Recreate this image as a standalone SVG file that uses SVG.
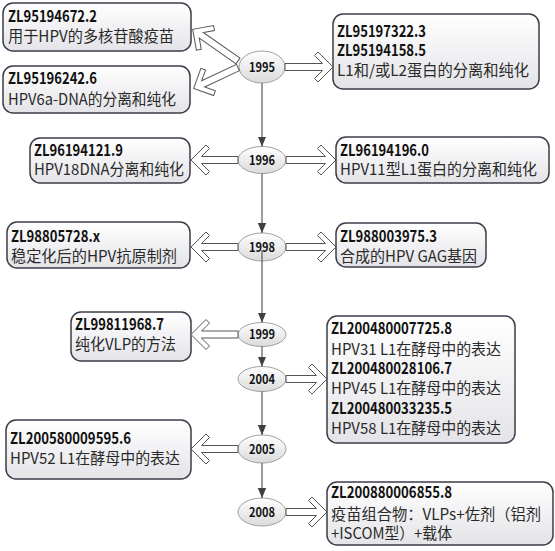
<svg xmlns="http://www.w3.org/2000/svg" width="555" height="551" viewBox="0 0 555 551">
<defs>
<linearGradient id="boxg" x1="0" y1="0" x2="0" y2="1">
<stop offset="0" stop-color="#ffffff"/>
<stop offset="1" stop-color="#e4e4e8"/>
</linearGradient>
<linearGradient id="ellg" x1="0" y1="0" x2="0" y2="1">
<stop offset="0" stop-color="#ffffff"/>
<stop offset="1" stop-color="#dadada"/>
</linearGradient>
<marker id="ah" markerUnits="userSpaceOnUse" markerWidth="10" markerHeight="10" viewBox="0 0 10 10" refX="10" refY="5" orient="auto">
<path d="M0,0.8 L10,5 L0,9.2 Z" fill="#404040"/>
</marker>
</defs>
<style>
.box{fill:url(#boxg);stroke:#3c3c4a;stroke-width:1.5}
.ell{fill:url(#ellg);stroke:#a0a0a0;stroke-width:1}
.id{font-family:"Noto Sans CJK SC","Noto Sans",sans-serif;font-size:15.5px;font-weight:bold;fill:#111}
.tx{font-family:"Noto Sans CJK SC","Noto Sans",sans-serif;font-size:15.5px;fill:#2a2a2a}
.yr{font-family:"Noto Sans CJK SC","Noto Sans",sans-serif;font-size:13px;font-weight:bold;fill:#111;text-anchor:middle}
.vl{stroke:#595959;stroke-width:1.2;fill:none;marker-end:url(#ah)}
.ba{fill:#ffffff;stroke:#555;stroke-width:1}
</style>
<rect width="555" height="551" fill="#ffffff"/>

<g id="box-ZL95194672">
<rect class="box" x="3" y="3" width="188" height="48" rx="10"/>
<text class="id" x="8" y="22" textLength="89" lengthAdjust="spacingAndGlyphs">ZL95194672.2</text>
<text class="tx" x="8" y="42" textLength="166" lengthAdjust="spacingAndGlyphs">用于HPV的多核苷酸疫苗</text>
</g>
<g id="box-ZL95196242">
<rect class="box" x="3" y="66" width="187" height="47" rx="10"/>
<text class="id" x="8" y="84" textLength="89" lengthAdjust="spacingAndGlyphs">ZL95196242.6</text>
<text class="tx" x="8" y="105" textLength="168" lengthAdjust="spacingAndGlyphs">HPV6a-DNA的分离和纯化</text>
</g>
<g id="box-ZL95197322">
<rect class="box" x="333" y="14" width="206" height="75" rx="10"/>
<text class="id" x="337" y="37" textLength="89" lengthAdjust="spacingAndGlyphs">ZL95197322.3</text>
<text class="id" x="337" y="55.5" textLength="89" lengthAdjust="spacingAndGlyphs">ZL95194158.5</text>
<text class="tx" x="337" y="75.5" textLength="192" lengthAdjust="spacingAndGlyphs">L1和/或L2蛋白的分离和纯化</text>
</g>
<g id="box-ZL96194121">
<rect class="box" x="30" y="138" width="160" height="45" rx="10"/>
<text class="id" x="34" y="156" textLength="89" lengthAdjust="spacingAndGlyphs">ZL96194121.9</text>
<text class="tx" x="34" y="175" textLength="150" lengthAdjust="spacingAndGlyphs">HPV18DNA分离和纯化</text>
</g>
<g id="box-ZL96194196">
<rect class="box" x="336" y="137" width="213" height="46" rx="10"/>
<text class="id" x="340" y="156" textLength="89" lengthAdjust="spacingAndGlyphs">ZL96194196.0</text>
<text class="tx" x="340" y="175" textLength="197" lengthAdjust="spacingAndGlyphs">HPV11型L1蛋白的分离和纯化</text>
</g>
<g id="box-ZL98805728">
<rect class="box" x="7" y="222" width="183" height="46" rx="10"/>
<text class="id" x="11" y="242" textLength="89" lengthAdjust="spacingAndGlyphs">ZL98805728.x</text>
<text class="tx" x="11" y="261.5" textLength="166" lengthAdjust="spacingAndGlyphs">稳定化后的HPV抗原制剂</text>
</g>
<g id="box-ZL988003975">
<rect class="box" x="336" y="223" width="150" height="44" rx="10"/>
<text class="id" x="340" y="242" textLength="97" lengthAdjust="spacingAndGlyphs">ZL988003975.3</text>
<text class="tx" x="340" y="262" textLength="137" lengthAdjust="spacingAndGlyphs">合成的HPV GAG基因</text>
</g>
<g id="box-ZL99811968">
<rect class="box" x="71" y="312" width="120" height="49" rx="10"/>
<text class="id" x="75" y="330" textLength="89" lengthAdjust="spacingAndGlyphs">ZL99811968.7</text>
<text class="tx" x="75" y="349.5" textLength="101" lengthAdjust="spacingAndGlyphs">纯化VLP的方法</text>
</g>
<g id="box-ZL2004">
<rect class="box" x="327" y="316" width="188" height="127" rx="10"/>
<text class="id" x="331" y="333.5" textLength="121" lengthAdjust="spacingAndGlyphs">ZL200480007725.8</text>
<text class="tx" x="331" y="354.5" textLength="170" lengthAdjust="spacingAndGlyphs">HPV31 L1在酵母中的表达</text>
<text class="id" x="331" y="373.5" textLength="121" lengthAdjust="spacingAndGlyphs">ZL200480028106.7</text>
<text class="tx" x="331" y="394" textLength="170" lengthAdjust="spacingAndGlyphs">HPV45 L1在酵母中的表达</text>
<text class="id" x="331" y="413.5" textLength="121" lengthAdjust="spacingAndGlyphs">ZL200480033235.5</text>
<text class="tx" x="331" y="433.5" textLength="170" lengthAdjust="spacingAndGlyphs">HPV58 L1在酵母中的表达</text>
</g>
<g id="box-ZL200580009595">
<rect class="box" x="6" y="420" width="185" height="59" rx="10"/>
<text class="id" x="10" y="443.5" textLength="121" lengthAdjust="spacingAndGlyphs">ZL200580009595.6</text>
<text class="tx" x="10" y="464" textLength="170" lengthAdjust="spacingAndGlyphs">HPV52 L1在酵母中的表达</text>
</g>
<g id="box-ZL200880006855">
<rect class="box" x="327" y="482" width="226" height="63" rx="10"/>
<text class="id" x="331" y="497.5" textLength="121" lengthAdjust="spacingAndGlyphs">ZL200880006855.8</text>
<text class="tx" x="331" y="520" textLength="210" lengthAdjust="spacingAndGlyphs">疫苗组合物：VLPs+佐剂（铝剂</text>
<text class="tx" x="331" y="538.5" textLength="121" lengthAdjust="spacingAndGlyphs">+ISCOM型）+载体</text>
</g>

<g id="year-1995"><ellipse class="ell" cx="262" cy="67" rx="23" ry="16"/><text class="yr" x="262" y="71.5" textLength="26" lengthAdjust="spacingAndGlyphs">1995</text></g>
<g id="year-1996"><ellipse class="ell" cx="262" cy="160" rx="24" ry="13.5"/><text class="yr" x="262" y="164.5" textLength="26" lengthAdjust="spacingAndGlyphs">1996</text></g>
<g id="year-1998"><ellipse class="ell" cx="262" cy="247" rx="24" ry="14"/><text class="yr" x="262" y="251.5" textLength="26" lengthAdjust="spacingAndGlyphs">1998</text></g>
<g id="year-1999"><ellipse class="ell" cx="262" cy="334.5" rx="24" ry="12"/><text class="yr" x="262" y="339" textLength="26" lengthAdjust="spacingAndGlyphs">1999</text></g>
<g id="year-2004"><ellipse class="ell" cx="262" cy="379" rx="24" ry="12.5"/><text class="yr" x="262" y="383.5" textLength="26" lengthAdjust="spacingAndGlyphs">2004</text></g>
<g id="year-2005"><ellipse class="ell" cx="262" cy="449" rx="24" ry="14"/><text class="yr" x="262" y="453.5" textLength="26" lengthAdjust="spacingAndGlyphs">2005</text></g>
<g id="year-2008"><ellipse class="ell" cx="262" cy="512" rx="24" ry="14"/><text class="yr" x="262" y="516.5" textLength="26" lengthAdjust="spacingAndGlyphs">2008</text></g>

<g id="connectors">
<line class="vl" x1="262" y1="83" x2="262" y2="146.5"/>
<line class="vl" x1="262" y1="173.5" x2="262" y2="233"/>
<line class="vl" x1="262" y1="250" x2="262" y2="322.5"/>
<line class="vl" x1="262" y1="346.5" x2="262" y2="366.5"/>
<line class="vl" x1="262" y1="391.5" x2="262" y2="435"/>
<line class="vl" x1="262" y1="463" x2="262" y2="498"/>

<polygon class="ba" transform="translate(238,61) rotate(215)" points="0,-3.5 44.8,-3.5 36.8,-11.5 40.3,-15 55.3,0 40.3,15 36.8,11.5 44.8,3.5 0,3.5"/>
<polygon class="ba" transform="translate(238,67.5) rotate(154.8)" points="0,-3.5 38.5,-3.5 30.5,-11.5 34,-15 49,0 34,15 30.5,11.5 38.5,3.5 0,3.5"/>
<polygon class="ba" transform="translate(285,67) rotate(0)" points="0,-3.5 37.5,-3.5 29.5,-11.5 33,-15 48,0 33,15 29.5,11.5 37.5,3.5 0,3.5"/>

<polygon class="ba" transform="translate(238,160) rotate(180)" points="0,-3.5 36.5,-3.5 28.5,-11.5 32,-15 47,0 32,15 28.5,11.5 36.5,3.5 0,3.5"/>
<polygon class="ba" transform="translate(286,160) rotate(0)" points="0,-3.5 39.5,-3.5 31.5,-11.5 35,-15 50,0 35,15 31.5,11.5 39.5,3.5 0,3.5"/>

<polygon class="ba" transform="translate(238,247) rotate(180)" points="0,-3.5 36.5,-3.5 28.5,-11.5 32,-15 47,0 32,15 28.5,11.5 36.5,3.5 0,3.5"/>
<polygon class="ba" transform="translate(286,247) rotate(0)" points="0,-3.5 39.5,-3.5 31.5,-11.5 35,-15 50,0 35,15 31.5,11.5 39.5,3.5 0,3.5"/>

<polygon class="ba" transform="translate(238,334.5) rotate(180)" points="0,-3.5 36.5,-3.5 28.5,-11.5 32,-15 47,0 32,15 28.5,11.5 36.5,3.5 0,3.5"/>
<polygon class="ba" transform="translate(286,379) rotate(0)" points="0,-3.5 30.5,-3.5 22.5,-11.5 26,-15 41,0 26,15 22.5,11.5 30.5,3.5 0,3.5"/>
<polygon class="ba" transform="translate(238,449) rotate(180)" points="0,-3.5 36.5,-3.5 28.5,-11.5 32,-15 47,0 32,15 28.5,11.5 36.5,3.5 0,3.5"/>
<polygon class="ba" transform="translate(286,512) rotate(0)" points="0,-3.5 30.5,-3.5 22.5,-11.5 26,-15 41,0 26,15 22.5,11.5 30.5,3.5 0,3.5"/>
</g>
</svg>
